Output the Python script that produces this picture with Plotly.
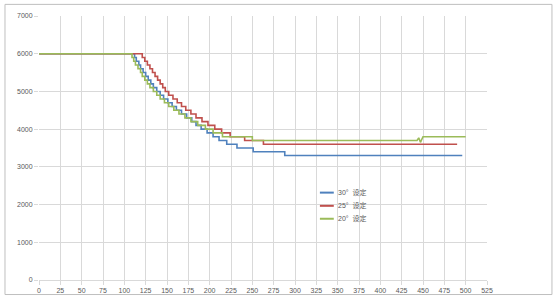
import plotly.graph_objects as go

# Series: x where each 100-step level begins, plus end point
levels_30 = [6000, 5900, 5800, 5700, 5600, 5500, 5400, 5300, 5200, 5100, 5000, 4900, 4800, 4700, 4600,
             4500, 4400, 4300, 4200, 4100, 4000, 3900, 3800, 3700, 3600, 3500, 3400, 3300, 3300]
x_30 = [0, 112, 114, 117, 119, 122, 125, 128, 131, 134, 138, 142, 146, 151, 156,
        161, 167, 173, 179, 184, 190, 197, 204, 211, 220, 232, 251, 288, 496]

levels_25 = [6000, 5900, 5800, 5700, 5600, 5500, 5400, 5300, 5200, 5100, 5000, 4900, 4800, 4700, 4600,
             4500, 4400, 4300, 4200, 4100, 4000, 3900, 3800, 3700, 3600, 3600]
x_25 = [0, 121, 124, 127, 130, 133, 136, 139, 142, 145, 148, 152, 157, 162, 167,
        172, 178, 184, 191, 198, 206, 214, 224, 241, 263, 490]

levels_20 = [6000, 5900, 5800, 5700, 5600, 5500, 5400, 5300, 5200, 5100, 5000, 4900, 4800, 4700, 4600,
             4500, 4400, 4300, 4200, 4100, 4000, 3900, 3800, 3700, 3700]
x_20 = [0, 109, 111, 113, 116, 119, 121, 124, 127, 130, 134, 138, 142, 147, 152,
        158, 164, 171, 178, 186, 195, 204, 215, 250, 443]
# small zig-zag near 445 then flat 3800 to the end (linear points)
blip_x_20 = [445, 447, 450, 500]
blip_y_20 = [3770, 3650, 3800, 3800]

names = ["30°  设定", "25°  设定", "20°  设定"]
colors = ["#4F81BD", "#C0504D", "#9BBB59"]

x_ticks = list(range(0, 526, 25))
y_ticks = list(range(0, 7001, 1000))


def staircase(xs, ys):
    """Turn (x where level begins, level) pairs into explicit step vertices."""
    px, py = [xs[0]], [ys[0]]
    for i in range(1, len(xs)):
        px += [xs[i], xs[i]]
        py += [ys[i - 1], ys[i]]
    return px, py


s30 = staircase(x_30, levels_30)
s25 = staircase(x_25, levels_25)
sx20, sy20 = staircase(x_20, levels_20)
s20 = (sx20 + blip_x_20, sy20 + blip_y_20)

fig = go.Figure()
for (xs, ys), name, col in zip([s30, s25, s20], names, colors):
    fig.add_trace(go.Scatter(x=xs, y=ys, mode="lines", name=name,
                             line=dict(color=col, width=1.6),
                             showlegend=False))

# manual legend
leg_y = [0.331, 0.281, 0.232]
shapes = []
annotations = []
for name, col, yy in zip(names, colors, leg_y):
    shapes.append(dict(type="line", xref="paper", yref="paper", x0=0.627, x1=0.658, y0=yy, y1=yy,
                       line=dict(color=col, width=2)))
    annotations.append(dict(xref="paper", yref="paper", x=0.664, y=yy, text=name, showarrow=False,
                            xanchor="left", yanchor="middle",
                            font=dict(family="Liberation Sans, Noto Sans CJK SC", size=7, color="#595959")))

# outer chart border
shapes.append(dict(type="rect", xref="paper", yref="paper", x0=-0.0759, x1=1.145, y0=-0.055, y1=1.044,
                   line=dict(color="#BFBFBF", width=1), fillcolor="rgba(0,0,0,0)", layer="below"))

fig.update_layout(
    width=558, height=306,
    margin=dict(l=39, r=71, t=15, b=19),
    paper_bgcolor="white", plot_bgcolor="white",
    shapes=shapes, annotations=annotations,
    font=dict(family="Liberation Sans, Noto Sans CJK SC", size=7, color="#595959"),
    xaxis=dict(range=[0, 525], tickvals=x_ticks, ticktext=[str(v) for v in x_ticks],
               showgrid=True, gridcolor="#D9D9D9", gridwidth=1, zeroline=False,
               showline=True, linecolor="#D9D9D9", ticks="outside", ticklen=4, tickcolor="#D9D9D9",
               tickfont=dict(size=7, color="#595959")),
    yaxis=dict(range=[0, 7000], tickvals=y_ticks, ticktext=[str(v) for v in y_ticks],
               showgrid=True, gridcolor="#D9D9D9", gridwidth=1, zeroline=False,
               showline=False, ticks="outside", ticklen=4, tickcolor="#D9D9D9",
               tickfont=dict(size=7, color="#595959")),
)

fig.write_html("out.html")
